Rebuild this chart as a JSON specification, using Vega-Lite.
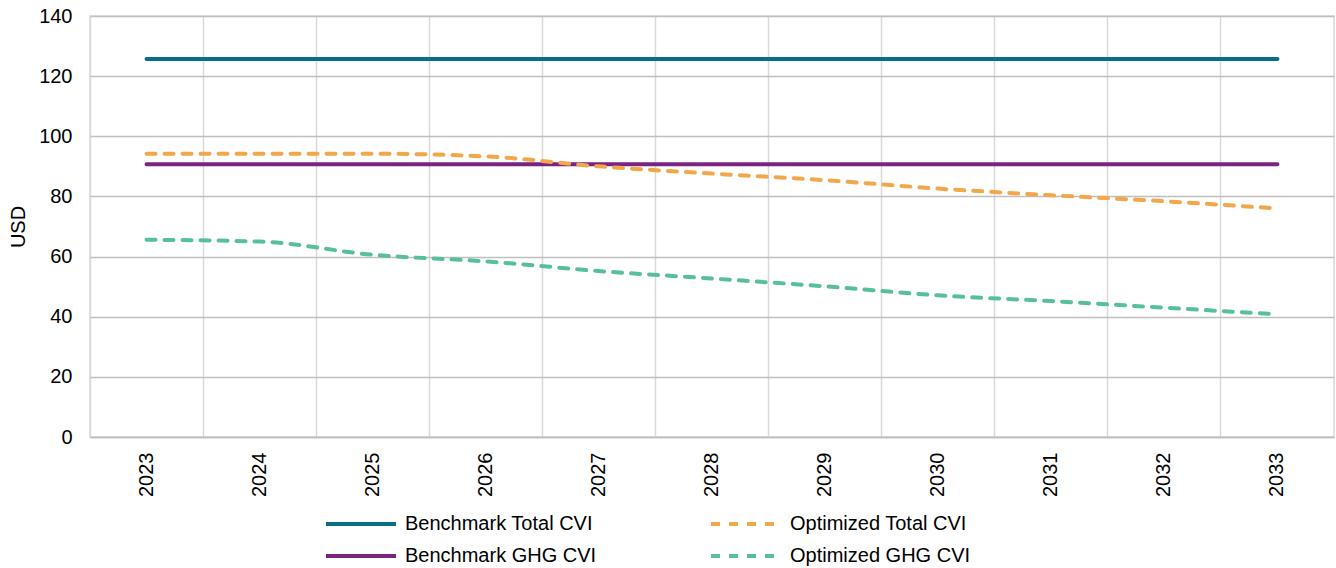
{
  "$schema": "https://vega.github.io/schema/vega-lite/v6.json",
  "width": 1244,
  "height": 421,
  "autosize": "none",
  "padding": {"left": 90, "top": 16, "right": 2, "bottom": 131},
  "background": "white",
  "config": {
    "font": "Liberation Sans",
    "view": {"stroke": "#d9d9d9", "strokeWidth": 1.5}
  },
  "data": {
    "values": [
      {"year": "2023", "series": "Benchmark Total CVI", "value": 125.7},
      {"year": "2024", "series": "Benchmark Total CVI", "value": 125.7},
      {"year": "2025", "series": "Benchmark Total CVI", "value": 125.7},
      {"year": "2026", "series": "Benchmark Total CVI", "value": 125.7},
      {"year": "2027", "series": "Benchmark Total CVI", "value": 125.7},
      {"year": "2028", "series": "Benchmark Total CVI", "value": 125.7},
      {"year": "2029", "series": "Benchmark Total CVI", "value": 125.7},
      {"year": "2030", "series": "Benchmark Total CVI", "value": 125.7},
      {"year": "2031", "series": "Benchmark Total CVI", "value": 125.7},
      {"year": "2032", "series": "Benchmark Total CVI", "value": 125.7},
      {"year": "2033", "series": "Benchmark Total CVI", "value": 125.7},
      {"year": "2023", "series": "Benchmark GHG CVI", "value": 90.7},
      {"year": "2024", "series": "Benchmark GHG CVI", "value": 90.7},
      {"year": "2025", "series": "Benchmark GHG CVI", "value": 90.7},
      {"year": "2026", "series": "Benchmark GHG CVI", "value": 90.7},
      {"year": "2027", "series": "Benchmark GHG CVI", "value": 90.7},
      {"year": "2028", "series": "Benchmark GHG CVI", "value": 90.7},
      {"year": "2029", "series": "Benchmark GHG CVI", "value": 90.7},
      {"year": "2030", "series": "Benchmark GHG CVI", "value": 90.7},
      {"year": "2031", "series": "Benchmark GHG CVI", "value": 90.7},
      {"year": "2032", "series": "Benchmark GHG CVI", "value": 90.7},
      {"year": "2033", "series": "Benchmark GHG CVI", "value": 90.7},
      {"year": "2023", "series": "Optimized Total CVI", "value": 94.2},
      {"year": "2024", "series": "Optimized Total CVI", "value": 94.2},
      {"year": "2025", "series": "Optimized Total CVI", "value": 94.2},
      {"year": "2026", "series": "Optimized Total CVI", "value": 93.3},
      {"year": "2027", "series": "Optimized Total CVI", "value": 90.0},
      {"year": "2028", "series": "Optimized Total CVI", "value": 87.6},
      {"year": "2029", "series": "Optimized Total CVI", "value": 85.4},
      {"year": "2030", "series": "Optimized Total CVI", "value": 82.6},
      {"year": "2031", "series": "Optimized Total CVI", "value": 80.4},
      {"year": "2032", "series": "Optimized Total CVI", "value": 78.4},
      {"year": "2033", "series": "Optimized Total CVI", "value": 76.0},
      {"year": "2023", "series": "Optimized GHG CVI", "value": 65.6},
      {"year": "2024", "series": "Optimized GHG CVI", "value": 65.0},
      {"year": "2025", "series": "Optimized GHG CVI", "value": 60.6},
      {"year": "2026", "series": "Optimized GHG CVI", "value": 58.4},
      {"year": "2027", "series": "Optimized GHG CVI", "value": 55.2},
      {"year": "2028", "series": "Optimized GHG CVI", "value": 52.7},
      {"year": "2029", "series": "Optimized GHG CVI", "value": 50.1},
      {"year": "2030", "series": "Optimized GHG CVI", "value": 47.1},
      {"year": "2031", "series": "Optimized GHG CVI", "value": 45.2},
      {"year": "2032", "series": "Optimized GHG CVI", "value": 43.0},
      {"year": "2033", "series": "Optimized GHG CVI", "value": 40.8}
    ]
  },
  "mark": {"type": "line", "strokeWidth": 4, "strokeCap": "round", "interpolate": "monotone"},
  "encoding": {
    "x": {
      "field": "year",
      "type": "ordinal",
      "scale": {"type": "band", "paddingInner": 0, "paddingOuter": 0},
      "axis": {
        "title": null,
        "bandPosition": 0,
        "labelAngle": -90,
        "labelAlign": "right",
        "labelBaseline": "middle",
        "labelPadding": 15,
        "labelFontSize": 20,
        "labelColor": "#000000",
        "ticks": false,
        "grid": true,
        "gridColor": "#d9d9d9",
        "gridWidth": 1.5,
        "domainColor": "#bfbfbf",
        "domainWidth": 1.5
      }
    },
    "y": {
      "field": "value",
      "type": "quantitative",
      "scale": {"domain": [0, 140], "nice": false},
      "axis": {
        "title": "USD",
        "titleFontSize": 20,
        "titleFontWeight": "normal",
        "titleColor": "#000000",
        "titlePadding": 10,
        "values": [0, 20, 40, 60, 80, 100, 120, 140],
        "labelFontSize": 20,
        "labelColor": "#000000",
        "labelPadding": 18,
        "ticks": false,
        "domain": false,
        "gridColor": "#bfbfbf",
        "gridWidth": 1.5
      }
    },
    "color": {
      "field": "series",
      "type": "nominal",
      "scale": {
        "domain": ["Benchmark Total CVI", "Optimized Total CVI", "Benchmark GHG CVI", "Optimized GHG CVI"],
        "range": ["#0a6e87", "#f2a74b", "#7a2382", "#57bf9f"]
      },
      "legend": {
        "title": null,
        "orient": "none",
        "legendX": 261,
        "legendY": 498,
        "direction": "horizontal",
        "columns": 2,
        "columnPadding": 106,
        "rowPadding": 12,
        "symbolType": "M-5,0H5",
        "symbolSize": 196,
        "symbolStrokeWidth": 4,
        "symbolOffset": 0,
        "labelOffset": 34,
        "labelFontSize": 20,
        "labelColor": "#000000",
        "labelLimit": 400
      }
    },
    "strokeDash": {
      "field": "series",
      "type": "nominal",
      "scale": {
        "domain": ["Benchmark Total CVI", "Optimized Total CVI", "Benchmark GHG CVI", "Optimized GHG CVI"],
        "range": [[1, 0], [9, 9], [1, 0], [9, 9]]
      },
      "legend": null
    }
  }
}
